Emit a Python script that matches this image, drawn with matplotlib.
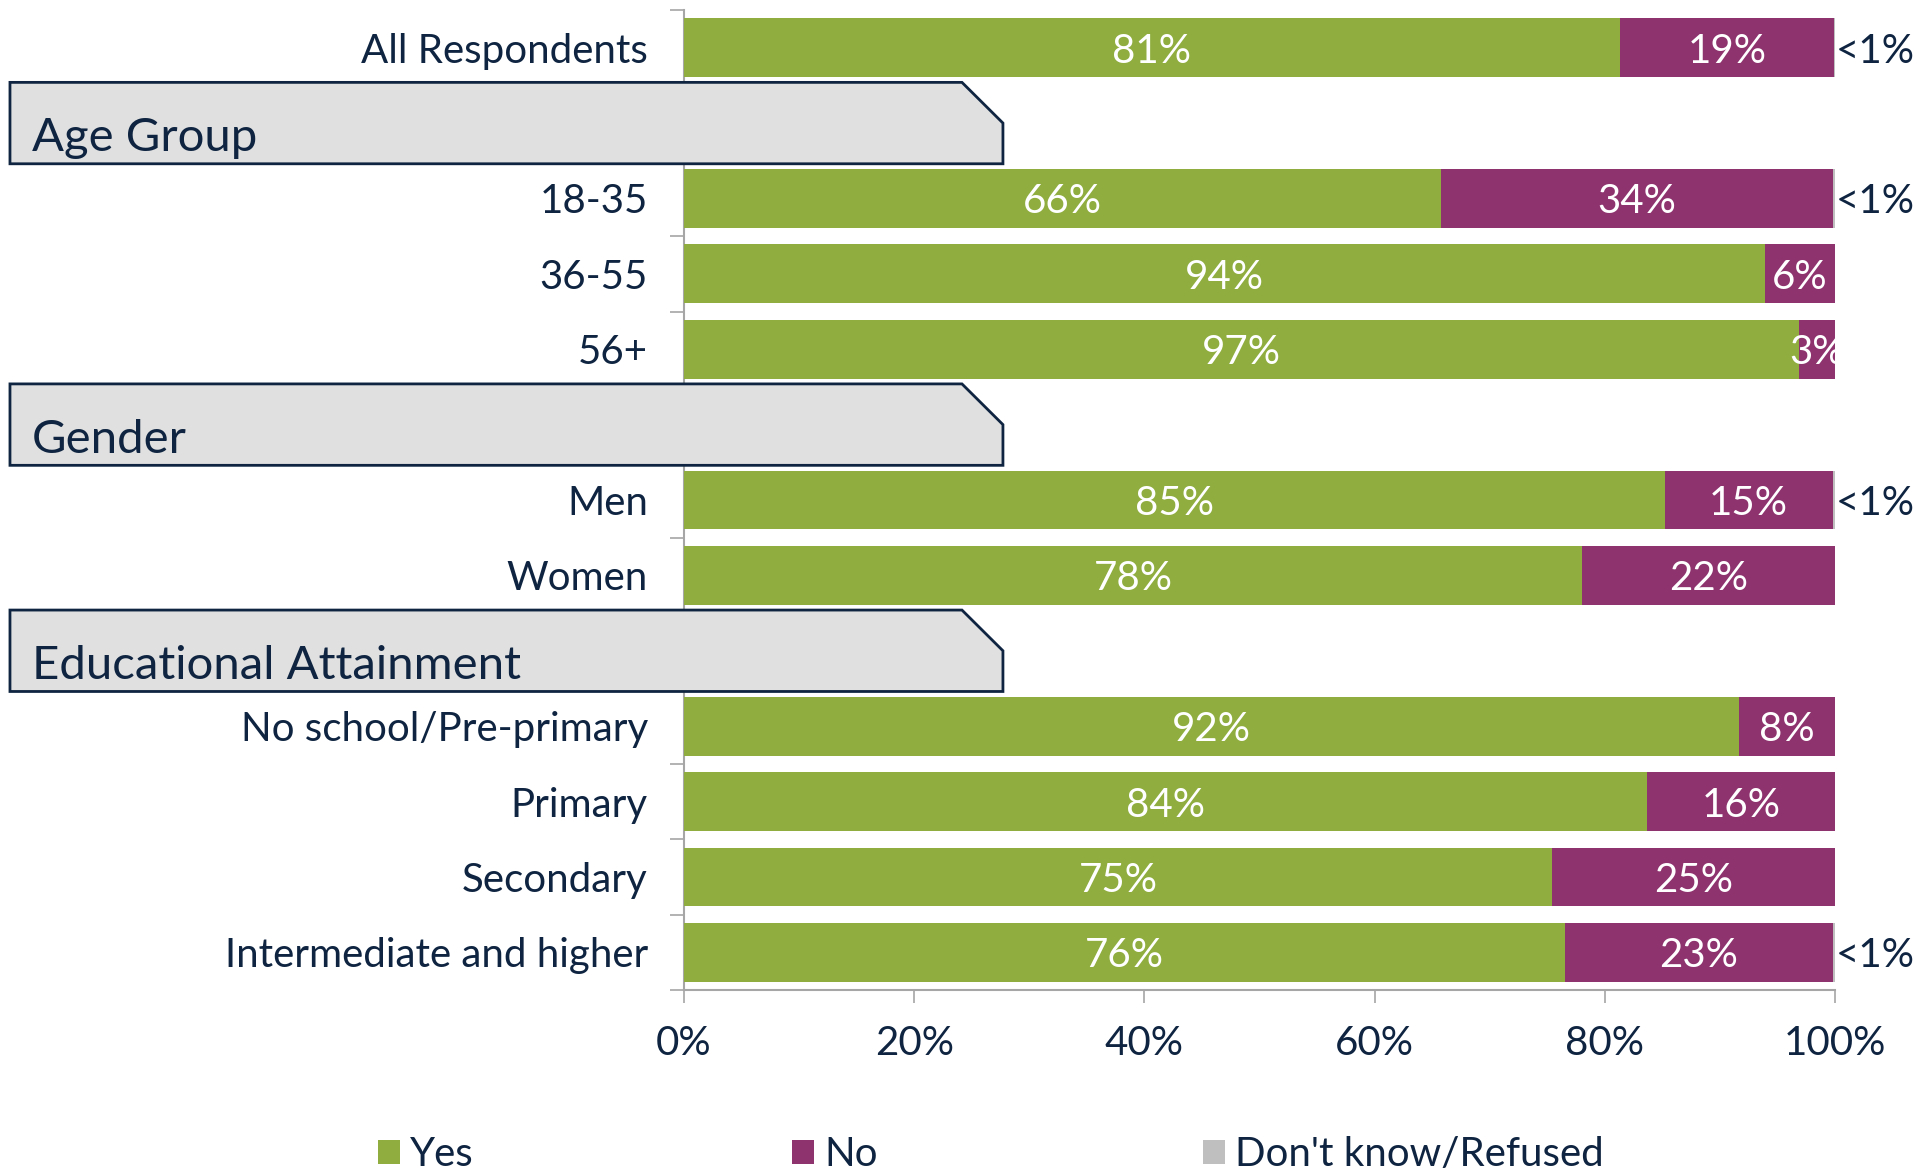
import matplotlib.pyplot as plt
import matplotlib.transforms as mtransforms
from matplotlib.patches import Polygon, Patch

plt.rcParams['font.family'] = ['Lato', 'DejaVu Sans']

#* data
headers = [None, "Age Group", "Gender", "Educational Attainment"]
group_sizes = [1, 3, 2, 4]
categories = ["All Respondents", "18-35", "36-55", "56+", "Men", "Women",
              "No school/Pre-primary", "Primary", "Secondary", "Intermediate and higher"]
yes = [81.3, 65.8, 93.9, 96.9, 85.2, 78.0, 91.7, 83.7, 75.4, 76.5]
no = [18.6, 34.0, 6.1, 3.1, 14.6, 22.0, 8.3, 16.3, 24.6, 23.3]
dk = [0.1, 0.2, 0.0, 0.0, 0.2, 0.0, 0.0, 0.0, 0.0, 0.2]
series = ["Yes", "No", "Don't know/Refused"]
xticks = [0, 20, 40, 60, 80, 100]

GREEN = '#8FAE3F'
PURPLE = '#8E336E'
GRAY = '#BFBFBF'
NAVY = '#0E2440'
AXGRAY = '#A6A6A6'

#* row positions, headers take a slot each
pos = 0
cat_y, head_y = [], []
for h, n in zip(headers, group_sizes):
    if h:
        head_y.append(pos)
        pos += 1
    for _ in range(n):
        cat_y.append(pos)
        pos += 1

fig = plt.figure(figsize=(19.25, 11.71), dpi=100)
ax = fig.add_axes([684/1925, 1-990/1171, 1151/1925, 980/1171])

lefts_no = [a for a in yes]
lefts_dk = [a + b for a, b in zip(yes, no)]
ax.barh(cat_y, yes, height=0.78, color=GREEN, zorder=3)
ax.barh(cat_y, no, left=lefts_no, height=0.78, color=PURPLE, zorder=3)
ax.barh(cat_y, dk, left=lefts_dk, height=0.78, color=GRAY, zorder=3)

fs = 29
for y, a, b, c in zip(cat_y, yes, no, dk):
    ax.text(a/2, y, f"{a:.0f}%", ha='center', va='center_baseline', color='white', fontsize=fs, zorder=4)
    ax.text(a + b/2, y, f"{b:.0f}%", ha='center', va='center_baseline', color='white', fontsize=fs, zorder=4)
    if c > 0:
        ax.text(100.1, y, "<1%", ha='left', va='center_baseline', color=NAVY, fontsize=fs, zorder=4)

ax.set_xlim(0, 100)
ax.set_ylim(pos - 0.5, -0.5)

ax.set_yticks(cat_y)
ax.set_yticklabels(categories)
ax.set_yticks([k + 0.5 for k in range(-1, pos)], minor=True)
ax.tick_params(axis='y', which='major', length=0, pad=26, labelsize=fs, labelcolor=NAVY)
ax.tick_params(axis='y', which='minor', length=10, width=1.2, color=AXGRAY, direction='out')

ax.set_xticks(xticks)
ax.set_xticklabels([f"{v}%" for v in xticks])
ax.tick_params(axis='x', length=9.5, width=1.2, color=AXGRAY, pad=16, labelsize=fs, labelcolor=NAVY)

for s in ['top', 'right']:
    ax.spines[s].set_visible(False)
for s in ['left', 'bottom']:
    ax.spines[s].set_color(AXGRAY)
    ax.spines[s].set_linewidth(1.5)

#* header boxes with the cut corner
trans = mtransforms.blended_transform_factory(ax.transAxes, ax.transData)
x0, x1, xc = -0.5856, 0.2771, 0.2415
for h, name in zip(head_y, [t for t in headers if t]):
    verts = [(x0, h - 0.54), (xc, h - 0.54), (x1, h), (x1, h + 0.54), (x0, h + 0.54)]
    ax.add_patch(Polygon(verts, closed=True, transform=trans, facecolor='#E0E0E0',
                         edgecolor=NAVY, linewidth=2, clip_on=False, zorder=6))
    ax.text(-0.5665, h + 0.37, name, transform=trans, fontsize=34, color=NAVY,
            va='baseline', ha='left', zorder=7)

#* legend, three evenly spaced entries
cols = [GREEN, PURPLE, GRAY]
for name, col, xl in zip(series, cols, [378, 792, 1203]):
    leg = fig.legend(handles=[Patch(facecolor=col, label=name)], loc='center left',
                     bbox_to_anchor=(xl/1925, 1 - 1155/1171), frameon=False,
                     fontsize=fs, handlelength=0.55, handleheight=0.55,
                     handletextpad=0.25, borderpad=0, borderaxespad=0, labelcolor=NAVY)

fig.savefig('out.png', dpi=100)
